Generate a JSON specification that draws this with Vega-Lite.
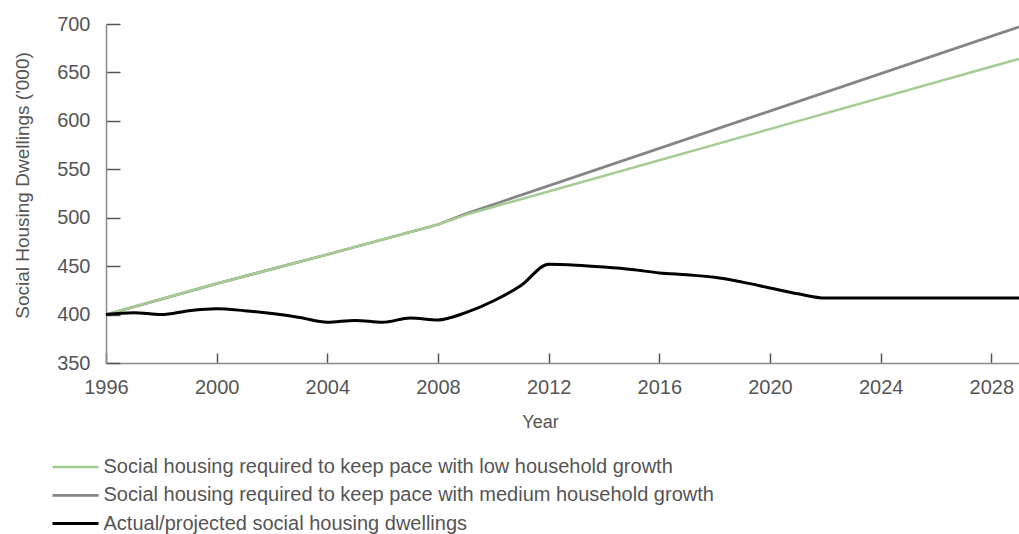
{
  "$schema": "https://vega.github.io/schema/vega-lite/v6.json",
  "width": 913,
  "height": 339,
  "autosize": {"type": "none"},
  "padding": {"left": 106, "top": 24, "right": 0, "bottom": 171},
  "background": "white",
  "config": {
    "view": {"stroke": null},
    "font": "Liberation Sans",
    "axis": {"grid": false, "domainColor": "#8a8a8a", "domainWidth": 1.5, "tickColor": "#555", "tickWidth": 1.5, "labelColor": "#555", "titleColor": "#555", "labelFont": "Liberation Sans", "titleFont": "Liberation Sans", "titleFontWeight": "normal"},
    "legend": {"title": null, "orient": "none", "legendX": -43.5, "legendY": 430, "direction": "vertical", "symbolType": "M-2,0H2", "symbolSize": 529, "rowPadding": 5.3, "labelOffset": 15, "labelFontSize": 20, "labelColor": "#555", "labelFont": "Liberation Sans", "labelLimit": 900, "padding": 0}
  },
  "data": {
    "values": [
      {"year": 1996, "value": 400, "series": "Social housing required to keep pace with low household growth"},
      {"year": 2000, "value": 432, "series": "Social housing required to keep pace with low household growth"},
      {"year": 2004, "value": 462, "series": "Social housing required to keep pace with low household growth"},
      {"year": 2008, "value": 493, "series": "Social housing required to keep pace with low household growth"},
      {"year": 2009, "value": 503, "series": "Social housing required to keep pace with low household growth"},
      {"year": 2029, "value": 664, "series": "Social housing required to keep pace with low household growth"},
      {"year": 1996, "value": 400, "series": "Social housing required to keep pace with medium household growth"},
      {"year": 2000, "value": 432, "series": "Social housing required to keep pace with medium household growth"},
      {"year": 2004, "value": 462, "series": "Social housing required to keep pace with medium household growth"},
      {"year": 2008, "value": 493, "series": "Social housing required to keep pace with medium household growth"},
      {"year": 2009, "value": 504, "series": "Social housing required to keep pace with medium household growth"},
      {"year": 2029, "value": 697, "series": "Social housing required to keep pace with medium household growth"},
      {"year": 1996, "value": 400, "series": "Actual/projected social housing dwellings"},
      {"year": 1997, "value": 402, "series": "Actual/projected social housing dwellings"},
      {"year": 1998, "value": 400, "series": "Actual/projected social housing dwellings"},
      {"year": 1999, "value": 404, "series": "Actual/projected social housing dwellings"},
      {"year": 2000, "value": 406, "series": "Actual/projected social housing dwellings"},
      {"year": 2001, "value": 404, "series": "Actual/projected social housing dwellings"},
      {"year": 2002, "value": 401, "series": "Actual/projected social housing dwellings"},
      {"year": 2003, "value": 397, "series": "Actual/projected social housing dwellings"},
      {"year": 2004, "value": 392, "series": "Actual/projected social housing dwellings"},
      {"year": 2005, "value": 394, "series": "Actual/projected social housing dwellings"},
      {"year": 2006, "value": 392, "series": "Actual/projected social housing dwellings"},
      {"year": 2007, "value": 396.5, "series": "Actual/projected social housing dwellings"},
      {"year": 2008, "value": 394.5, "series": "Actual/projected social housing dwellings"},
      {"year": 2009, "value": 402, "series": "Actual/projected social housing dwellings"},
      {"year": 2010, "value": 414, "series": "Actual/projected social housing dwellings"},
      {"year": 2011, "value": 430, "series": "Actual/projected social housing dwellings"},
      {"year": 2012, "value": 452, "series": "Actual/projected social housing dwellings"},
      {"year": 2013, "value": 451, "series": "Actual/projected social housing dwellings"},
      {"year": 2014, "value": 449, "series": "Actual/projected social housing dwellings"},
      {"year": 2015, "value": 446.5, "series": "Actual/projected social housing dwellings"},
      {"year": 2016, "value": 443, "series": "Actual/projected social housing dwellings"},
      {"year": 2017, "value": 441, "series": "Actual/projected social housing dwellings"},
      {"year": 2018, "value": 438.5, "series": "Actual/projected social housing dwellings"},
      {"year": 2019, "value": 433.5, "series": "Actual/projected social housing dwellings"},
      {"year": 2020, "value": 427.5, "series": "Actual/projected social housing dwellings"},
      {"year": 2021, "value": 421.5, "series": "Actual/projected social housing dwellings"},
      {"year": 2022, "value": 417, "series": "Actual/projected social housing dwellings"},
      {"year": 2024, "value": 417, "series": "Actual/projected social housing dwellings"},
      {"year": 2026, "value": 417, "series": "Actual/projected social housing dwellings"},
      {"year": 2029, "value": 417, "series": "Actual/projected social housing dwellings"}
    ]
  },
  "encoding": {
    "x": {
      "field": "year", "type": "quantitative",
      "scale": {"domain": [1996, 2029], "nice": false, "zero": false},
      "axis": {"values": [1996, 2000, 2004, 2008, 2012, 2016, 2020, 2024, 2028], "format": "d", "tickSize": -10, "labelPadding": 24, "labelFontSize": 20, "labelFlush": false, "labelOverlap": false, "title": "Year", "titleFontSize": 18, "titleX": 434, "titleY": 59, "titleBaseline": "middle", "titleAlign": "center"}
    },
    "y": {
      "field": "value", "type": "quantitative",
      "scale": {"domain": [350, 700], "nice": false, "zero": false},
      "axis": {"values": [350, 400, 450, 500, 550, 600, 650, 700], "tickSize": -14, "labelPadding": 30, "labelFontSize": 20, "labelFlush": false, "title": "Social Housing Dwellings ('000)", "titleFontSize": 19, "titleX": -84, "titleY": 161, "titleAngle": -90, "titleBaseline": "middle", "titleAlign": "center"}
    },
    "color": {
      "field": "series", "type": "nominal",
      "scale": {
        "domain": ["Social housing required to keep pace with low household growth", "Social housing required to keep pace with medium household growth", "Actual/projected social housing dwellings"],
        "range": ["#a5cd93", "#858585", "#000000"]
      }
    },
    "strokeWidth": {
      "field": "series", "type": "nominal",
      "scale": {
        "domain": ["Social housing required to keep pace with low household growth", "Social housing required to keep pace with medium household growth", "Actual/projected social housing dwellings"],
        "range": [2.5, 3, 4]
      }
    },
    "order": {"field": "year", "type": "quantitative"}
  },
  "layer": [
    {"transform": [{"filter": "datum.series === 'Social housing required to keep pace with medium household growth'"}], "mark": {"type": "line", "clip": true, "strokeJoin": "round"}},
    {"transform": [{"filter": "datum.series === 'Social housing required to keep pace with low household growth'"}], "mark": {"type": "line", "clip": true, "strokeJoin": "round"}},
    {"transform": [{"filter": "datum.series === 'Actual/projected social housing dwellings'"}], "mark": {"type": "line", "clip": true, "strokeJoin": "round", "interpolate": "monotone"}}
  ]
}
